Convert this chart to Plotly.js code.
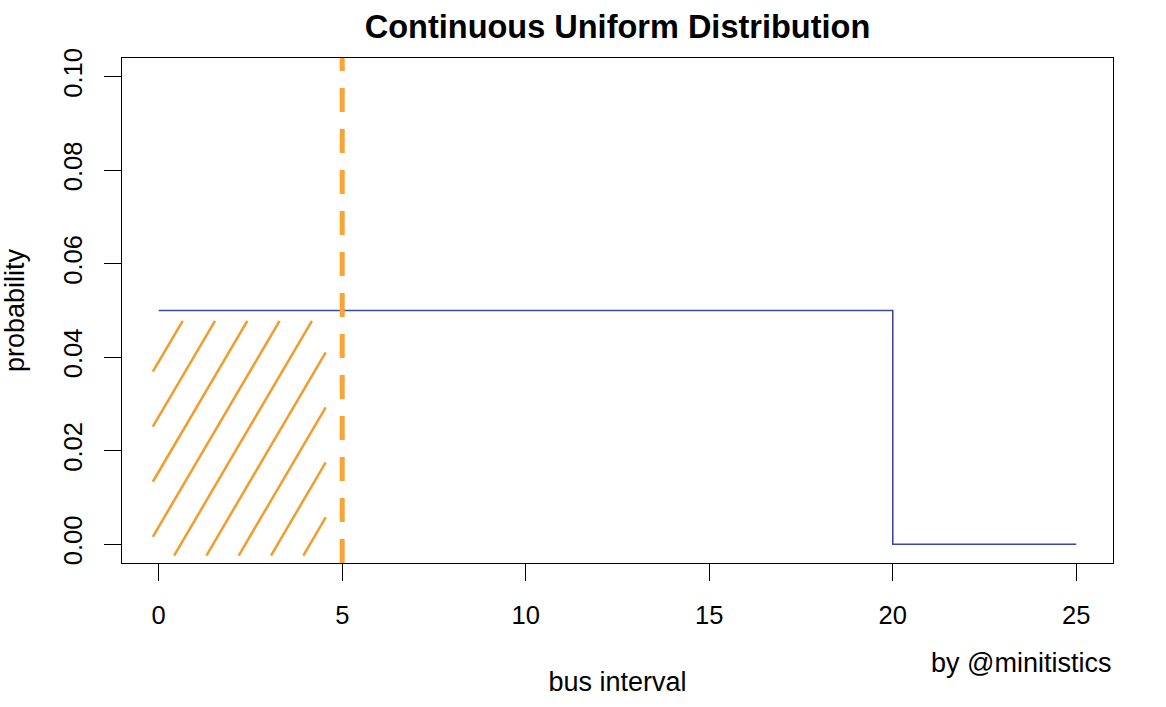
<!DOCTYPE html>
<html>
<head>
<meta charset="utf-8">
<script src="https://cdn.plot.ly/plotly-3.0.1.min.js"></script>
<style>html,body{margin:0;padding:0;background:#fff;}#chart{width:1166px;height:707px;}</style>
</head>
<body>
<div id="chart"></div>
<script>
// ---- data ----
var densityX = [0, 20, 20, 25];
var densityY = [0.05, 0.05, 0, 0];
var cutoff = 5;                 // dashed line at bus interval = 5
var shadeFrom = 0;              // hatched area P(X <= 5)
var shadeTo = 5;
var shadeHeight = 0.05;
var xTicks = [0, 5, 10, 15, 20, 25];
var yTicks = [0, 0.02, 0.04, 0.06, 0.08, 0.10];

// ---- hatch lines (computed from the shaded region) ----
function hatch(x0, x1, y0, y1, slope, spacing, start) {
  var xs = [], ys = [];
  for (var a = start; a < x1; a += spacing) {
    var xa = Math.max(x0, a);
    var xb = Math.min(x1, a + (y1 - y0) / slope);
    if (xb <= xa) continue;
    xs.push(xa, xb, null);
    ys.push(y0 + slope * (xa - a), y0 + slope * (xb - a), null);
  }
  return {x: xs, y: ys};
}
var h = hatch(shadeFrom - 0.16, shadeTo - 0.45, -0.0024, shadeHeight - 0.0022,
              0.01337, 0.88, shadeFrom - 3.1);

var font = 'Liberation Sans, Arial, Helvetica, sans-serif';

var traces = [
  {x: h.x, y: h.y, mode: 'lines', type: 'scatter', connectgaps: false,
   line: {color: '#F39C2B', width: 2.5}, hoverinfo: 'skip', showlegend: false},
  {x: densityX, y: densityY, mode: 'lines', type: 'scatter',
   line: {color: '#3B4A9C', width: 1.6}, showlegend: false}
];

var layout = {
  width: 1166, height: 707,
  margin: {l: 122, r: 53, t: 58, b: 144},
  paper_bgcolor: '#ffffff', plot_bgcolor: '#ffffff',
  font: {family: font, color: '#000', size: 25},
  showlegend: false,
  title: {text: '<b>Continuous Uniform Distribution</b>', x: 0.5, xref: 'paper',
          y: 1 - 27 / 707, yref: 'container', yanchor: 'middle',
          font: {family: font, size: 32.5, color: '#000'}},
  xaxis: {range: [-1, 26], tickvals: xTicks, ticktext: xTicks.map(String),
          ticks: 'outside', ticklen: 17, tickwidth: 1, tickcolor: '#000',
          showline: true, mirror: true, linecolor: '#000', linewidth: 1,
          showgrid: false, zeroline: false, automargin: false,
          ticklabelstandoff: 12,
          tickfont: {family: font, size: 25.5, color: '#000'},
          title: {text: 'bus interval', standoff: 44, font: {family: font, size: 27, color: '#000'}}},
  yaxis: {range: [-0.004, 0.104], tickvals: yTicks, ticktext: yTicks.map(function(v){return v.toFixed(2);}),
          tickangle: -90,
          ticks: 'outside', ticklen: 17, tickwidth: 1, tickcolor: '#000',
          showline: true, mirror: true, linecolor: '#000', linewidth: 1,
          showgrid: false, zeroline: false, automargin: false,
          ticklabelstandoff: 12,
          tickfont: {family: font, size: 25.5, color: '#000'},
          title: {text: 'probability', standoff: 40, font: {family: font, size: 27, color: '#000'}}},
  shapes: [
    {type: 'line', xref: 'x', yref: 'paper', x0: cutoff, x1: cutoff, y0: 0, y1: 1,
     line: {color: '#F8A535', width: 5, dash: '24px,17px'}}
  ],
  annotations: [
    {text: 'by @minitistics', xref: 'paper', yref: 'paper', x: 1, y: (563 - 663) / 505,
     xanchor: 'right', yanchor: 'middle', showarrow: false,
     font: {family: font, size: 27, color: '#000'}}
  ]
};

Plotly.newPlot('chart', traces, layout, {staticPlot: true, displayModeBar: false});
</script>
</body>
</html>
